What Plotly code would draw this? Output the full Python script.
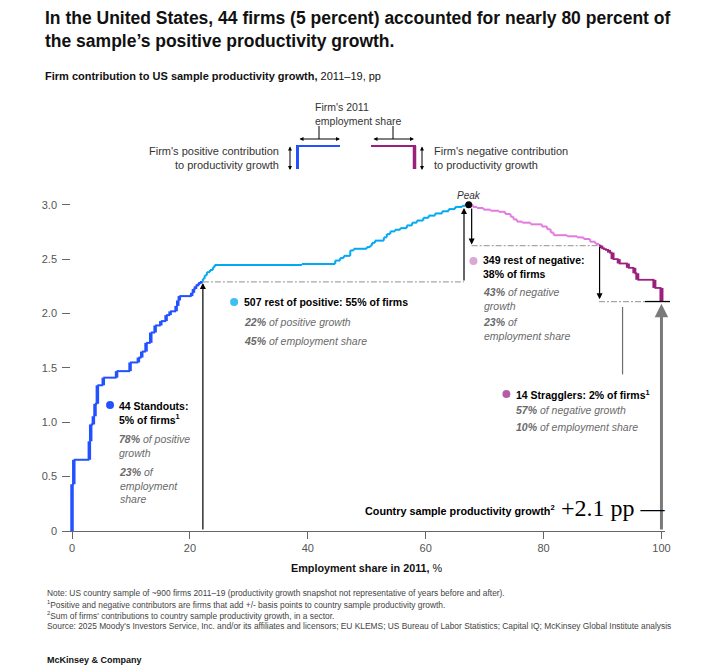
import plotly.graph_objects as go

# Standouts: cumulative employment share (%) and cumulative contribution (pp) at the end of each firm
stand_x = [0.3, 2.94, 3.17, 3.62, 3.9, 4.3, 5.3, 7.56, 9.85, 11.26, 11.83, 12.56, 13.36, 14.1, 15.06,
           15.96, 16.64, 17.66, 17.94, 18.2, 20.3, 20.6, 20.94, 21.28, 21.7, 22.2]
stand_y = [0.43, 0.655, 0.825, 0.98, 1.055, 1.17, 1.34, 1.41, 1.47, 1.55, 1.595, 1.65, 1.73, 1.825, 1.89,
           1.93, 1.985, 2.02, 2.07, 2.12, 2.16, 2.19, 2.225, 2.25, 2.27, 2.29]

# Rest of positive
restpos_x = [22.5, 22.87, 23.4, 23.9, 24.2, 39.0, 44.65, 45.5, 46.1, 47.2, 47.8, 50.0, 50.6, 50.9, 51.4,
             52.9, 53.4, 54.0, 54.8, 55.7, 56.8, 57.7, 58.5, 59.6, 60.5, 61.6, 62.8, 63.9, 65.0, 66.2,
             66.7, 67.3]
restpos_y = [2.32, 2.35, 2.38, 2.40, 2.425, 2.447, 2.456, 2.487, 2.51, 2.53, 2.58, 2.595, 2.61, 2.625, 2.65,
             2.67, 2.70, 2.73, 2.755, 2.77, 2.785, 2.81, 2.835, 2.855, 2.88, 2.90, 2.92, 2.94, 2.96, 2.98,
             2.99, 3.0]

# Rest of negative
restneg_x = [68.0, 68.7, 69.8, 71.0, 72.4, 73.5, 74.4, 74.9, 75.5, 76.4, 77.8, 79.7, 80.6, 81.2, 81.7,
             84.0, 85.7, 86.8, 87.9, 88.8, 89.4]
restneg_y = [2.98, 2.97, 2.955, 2.945, 2.935, 2.915, 2.89, 2.865, 2.845, 2.835, 2.82, 2.80, 2.775, 2.745, 2.72,
             2.71, 2.70, 2.685, 2.66, 2.64, 2.625]

# Stragglers
strag_x = [89.8, 90.4, 91.1, 91.7, 92.75, 94.3, 95.4, 95.9, 98.8, 100.0]
strag_y = [2.60, 2.585, 2.56, 2.50, 2.46, 2.42, 2.37, 2.31, 2.235, 2.11]

x_ticks = [0, 20, 40, 60, 80, 100]
y_ticks = [0, 0.5, 1.0, 1.5, 2.0, 2.5, 3.0]
y_ticktext = ["0", "0.5", "1.0", "1.5", "2.0", "2.5", "3.0"]

BLUE = "#2251FF"
LIGHTBLUE = "#00A9F4"
PINK = "#E37BDF"
PURPLE = "#9C1F7D"
GREY = "#6E6E6E"
FONT = "Liberation Sans, Arial, sans-serif"
SERIF = "Liberation Serif, Times New Roman, serif"


def step_segments(xs, ys, x0, y0, mode):
    # split a staircase into horizontal and vertical pieces
    hx, hy, vx, vy = [], [], [], []
    px, py = x0, y0
    for x, y in zip(xs, ys):
        if mode == "vh":
            vx += [px, px, None]
            vy += [py, y, None]
            hx += [px, x, None]
            hy += [y, y, None]
        else:
            hx += [px, x, None]
            hy += [py, py, None]
            vx += [x, x, None]
            vy += [py, y, None]
        px, py = x, y
    return hx, hy, vx, vy


fig = go.Figure()


def add_steps(xs, ys, x0, y0, mode, color, hw, vw):
    hx, hy, vx, vy = step_segments(xs, ys, x0, y0, mode)
    fig.add_trace(go.Scatter(x=hx, y=hy, mode="lines", line=dict(color=color, width=hw), hoverinfo="skip"))
    fig.add_trace(go.Scatter(x=vx, y=vy, mode="lines", line=dict(color=color, width=vw), hoverinfo="skip"))


add_steps(stand_x, stand_y, 0, 0, "vh", BLUE, 2, 3.5)
add_steps(restpos_x, restpos_y, stand_x[-1], stand_y[-1], "vh", LIGHTBLUE, 2, 2)
add_steps(restneg_x, restneg_y, restpos_x[-1], restpos_y[-1], "hv", PINK, 2, 2)
add_steps(strag_x, strag_y, restneg_x[-1], restneg_y[-1], "hv", PURPLE, 1.8, 4)

peak_x, peak_y = restpos_x[-1], restpos_y[-1]
s_end_x, s_end_y = stand_x[-1], stand_y[-1]
n_end_x, n_end_y = restneg_x[-1], restneg_y[-1]
final_x, final_y = strag_x[-1], strag_y[-1]

# peak dot
fig.add_trace(go.Scatter(x=[peak_x], y=[peak_y], mode="markers", marker=dict(color="black", size=7),
                         cliponaxis=False, hoverinfo="skip"))

# group dots
fig.add_trace(go.Scatter(x=[6.45, 27.5, 68.1, 73.7], y=[1.158, 2.105, 2.483, 1.259], mode="markers",
                         marker=dict(color=[BLUE, "#3CBFF5", "#D9A8D4", "#B65BA8"], size=8),
                         cliponaxis=False, hoverinfo="skip"))

DOT = dict(color="#A8A8A8", width=1.2, dash="6px,2px,2px,2px")
shapes = [
    dict(type="line", xref="x", yref="y", x0=s_end_x, x1=peak_x - 0.8, y0=s_end_y, y1=s_end_y, line=DOT),
    dict(type="line", xref="x", yref="y", x0=peak_x + 0.5, x1=n_end_x, y0=n_end_y, y1=n_end_y, line=DOT),
    dict(type="line", xref="x", yref="y", x0=n_end_x, x1=97.3, y0=final_y, y1=final_y, line=DOT),
    dict(type="line", xref="paper", yref="y", x0=(645 - 62) / 603, x1=(670 - 62) / 603,
         y0=final_y, y1=final_y, line=dict(color="black", width=1.3)),
    dict(type="line", xref="x", yref="y", x0=93.4, x1=93.4, y0=2.06, y1=1.44,
         line=dict(color=GREY, width=1.2)),
]

annotations = []


def arrow(x, y, ax, ay, color="black", width=1.2, size=1.0):
    annotations.append(dict(x=x, y=y, ax=ax, ay=ay, xref="x", yref="y", axref="x", ayref="y", text="",
                            showarrow=True, arrowhead=2, arrowsize=size, arrowwidth=width, arrowcolor=color))


arrow(s_end_x, s_end_y - 0.01, s_end_x, 0)
arrow(peak_x - 0.8, peak_y - 0.03, peak_x - 0.8, s_end_y)
arrow(peak_x + 0.5, n_end_y + 0.01, peak_x + 0.5, peak_y - 0.02)
arrow(n_end_x + 0.1, final_y + 0.02, n_end_x + 0.1, n_end_y)
arrow(final_x, final_y - 0.02, final_x, 0, color="#7A7A7A", width=3, size=0.9)


def label(x, y, text, size=10.5, color="black", xanchor="left", yanchor="middle", font=FONT, align="left"):
    annotations.append(dict(x=x, y=y, xref="x", yref="y", text=text, showarrow=False, xanchor=xanchor,
                            yanchor=yanchor, align=align, font=dict(size=size, color=color, family=font)))


GRAYI = "#6A6A6A"
label(7.6, 1.225, "<b>44 Standouts:<br>5% of firms<sup>1</sup></b>", yanchor="top")
label(7.6, 0.915, "<i><b>78%</b> of positive<br>growth</i>", color=GRAYI, yanchor="top")
label(7.6, 0.62, "<i><b>23%</b> of<br>employment<br>share</i>", color=GRAYI, yanchor="top")

label(28.9, 2.105, "<b>507 rest of positive: 55% of firms</b>")
label(28.9, 1.92, "<i><b>22%</b> of positive growth</i>", color=GRAYI)
label(28.9, 1.745, "<i><b>45%</b> of employment share</i>", color=GRAYI)

label(69.4, 2.565, "<b>349 rest of negative:<br>38% of firms</b>", yanchor="top")
label(69.4, 2.27, "<i><b>43%</b> of negative<br>growth</i>", color=GRAYI, yanchor="top")
label(69.4, 2.0, "<i><b>23%</b> of<br>employment share</i>", color=GRAYI, yanchor="top")

label(74.9, 1.259, "<b>14 Stragglers: 2% of firms<sup>1</sup></b>")
label(74.9, 1.11, "<i><b>57%</b> of negative growth</i>", color=GRAYI)
label(74.9, 0.954, "<i><b>10%</b> of employment share</i>", color=GRAYI)

label(peak_x, peak_y + 0.015, "<i>Peak</i>", size=10, color="#333", xanchor="center", yanchor="bottom")

label(82.2, 0.19, "<b>Country sample productivity growth<sup>2</sup></b>", size=10.8, xanchor="right")
label(82.6, 0.21, "+2.1 pp —", size=24, font=SERIF)


def px_x(px):
    return (px - 62) / 603


def px_y(py):
    return (531 - py) / 348


def ptext(px, py, text, size, color="black", xanchor="left", yanchor="middle", font=FONT, align="left"):
    annotations.append(dict(x=px_x(px), y=px_y(py), xref="paper", yref="paper", text=text, showarrow=False,
                            xanchor=xanchor, yanchor=yanchor, align=align,
                            font=dict(size=size, color=color, family=font)))


ptext(43, 30, "<b>In the United States, 44 firms (5 percent) accounted for nearly 80 percent of<br>"
              "the sample’s positive productivity growth.</b>", 17.5, color="#111")
ptext(43, 76, "<b>Firm contribution to US sample productivity growth,</b> 2011–19, pp", 11, color="#111")

# legend key
ptext(358, 114, "Firm's 2011<br>employment share", 10.5, color="#333", xanchor="center")
ptext(281, 158.5, "Firm's positive contribution<br>to productivity growth", 11, color="#333",
      xanchor="right", align="right")
ptext(432, 158.5, "Firm's negative contribution<br>to productivity growth", 11, color="#333")


def key_arrow(x1, y1, x0, y0):
    # double-headed arrow in pixel positions
    annotations.append(dict(x=px_x(x1), y=px_y(y1), ax=x0 - x1, ay=y0 - y1, xref="paper", yref="paper",
                            axref="pixel", ayref="pixel", text="", showarrow=True, arrowhead=2,
                            arrowside="end+start", arrowsize=0.8, arrowwidth=1, arrowcolor="black"))


key_arrow(340, 139, 298, 139)
key_arrow(414, 139, 372, 139)
key_arrow(290, 170, 290, 145)
key_arrow(422, 170, 422, 145)

for tx in [319, 393]:
    shapes.append(dict(type="line", xref="paper", yref="paper", x0=px_x(tx), x1=px_x(tx),
                       y0=px_y(139), y1=px_y(126), line=dict(color="black", width=1)))
shapes += [
    dict(type="line", xref="paper", yref="paper", x0=px_x(297.5), x1=px_x(297.5), y0=px_y(146), y1=px_y(169),
         line=dict(color=BLUE, width=3)),
    dict(type="line", xref="paper", yref="paper", x0=px_x(296), x1=px_x(340), y0=px_y(146), y1=px_y(146),
         line=dict(color=BLUE, width=2)),
    dict(type="line", xref="paper", yref="paper", x0=px_x(371), x1=px_x(416), y0=px_y(146), y1=px_y(146),
         line=dict(color=PURPLE, width=2)),
    dict(type="line", xref="paper", yref="paper", x0=px_x(414.5), x1=px_x(414.5), y0=px_y(146), y1=px_y(169),
         line=dict(color=PURPLE, width=3.5)),
]

# axis title and footer
ptext(367, 568, "<b>Employment share in 2011,</b> %", 10.8, color="#111", xanchor="center")
foot = ["Note: US country sample of ~900 firms 2011–19 (productivity growth snapshot not representative of years before and after).",
        "<sup>1</sup>Positive and negative contributors are firms that add +/- basis points to country sample productivity growth.",
        "<sup>2</sup>Sum of firms' contributions to country sample productivity growth, in a sector.",
        "Source: 2025 Moody's Investors Service, Inc. and/or its affiliates and licensors; EU KLEMS; US Bureau of Labor Statistics; Capital IQ; McKinsey Global Institute analysis"]
for i, line in enumerate(foot):
    ptext(45, 593 + 11 * i, line, 8.4, color="#444")
ptext(45, 660, "<b>McKinsey & Company</b>", 9, color="#111")

# the page puts the figure 8px in from the top-left corner, so margins are shifted by that amount
fig.update_layout(
    width=720, height=670,
    margin=dict(l=54, r=63, t=175, b=147),
    plot_bgcolor="white", paper_bgcolor="white",
    showlegend=False,
    font=dict(family=FONT, color="#555"),
    shapes=shapes,
    annotations=annotations,
    xaxis=dict(range=[-1.7, 100.6], tickvals=x_ticks, ticks="outside", ticklen=7, tickcolor="#666",
               showline=True, linecolor="#666", linewidth=1, showgrid=False, zeroline=False,
               tickfont=dict(size=11, color="#555", family=FONT)),
    yaxis=dict(range=[0, 3.2], tickvals=y_ticks, ticktext=y_ticktext, ticks="inside", ticklen=8,
               tickcolor="#666", showline=False, showgrid=False, zeroline=False, ticklabelstandoff=4,
               tickfont=dict(size=11, color="#555", family=FONT)),
)

fig.write_html("out.html")
